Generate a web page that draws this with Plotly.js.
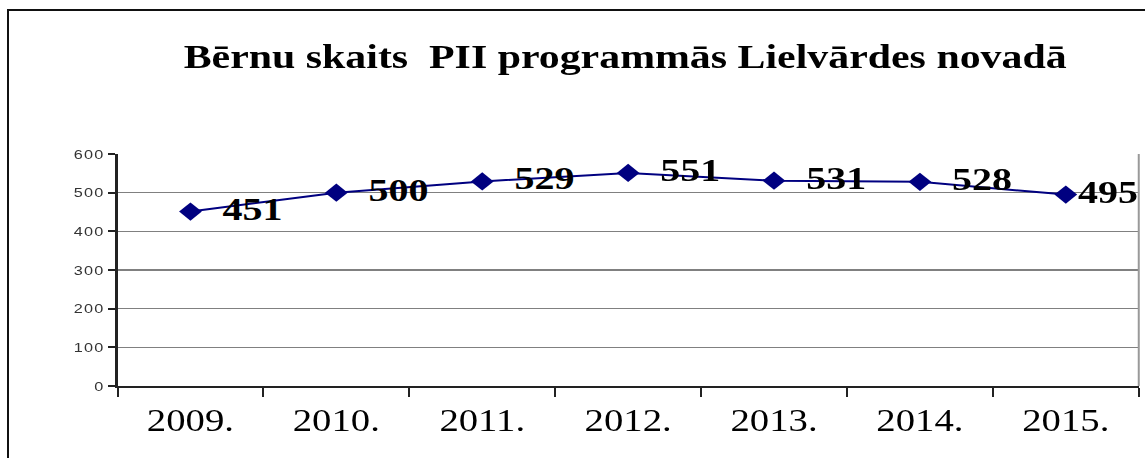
<!DOCTYPE html>
<html><head><meta charset="utf-8">
<script src="https://cdn.plot.ly/plotly-3.0.1.min.js"></script>
<style>
html,body{margin:0;padding:0;background:#fff;overflow:hidden}
#wrap{position:relative;width:1145px;height:458px;overflow:hidden}
#chart{width:916px;height:458px;transform:scaleX(1.25);transform-origin:0 0}
#frame{position:absolute;left:7px;top:9px;width:1200px;height:500px;border-left:2px solid #111;border-top:2px solid #111;pointer-events:none}
.ytick text{letter-spacing:1px}
</style></head>
<body><div id="wrap"><div id="chart"></div><div id="frame"></div></div>
<script>
var years = ['2009.', '2010.', '2011.', '2012.', '2013.', '2014.', '2015.'];
var children = [451, 500, 529, 551, 531, 528, 495];
var yTicks = [0, 100, 200, 300, 400, 500, 600];
var titleText = 'Bērnu skaits  PII programmās Lielvārdes novadā';

var serif = 'Liberation Serif, Times New Roman, serif';
var labelTemplates = children.map(function (v, i) { return i === children.length - 1 ? '%{text}' : '  %{text}'; });
var trace = {
  x: years, y: children, type: 'scatter', mode: 'lines+markers+text',
  line: {color: '#000080', width: 2},
  marker: {symbol: 'diamond', size: 14, color: '#000080'},
  text: children.map(String),
  texttemplate: labelTemplates,
  textposition: 'middle right',
  textfont: {family: serif, size: 32, color: '#000', weight: 'bold'},
  cliponaxis: false,
  hoverinfo: 'skip'
};
var layout = {
  width: 916, height: 458,
  margin: {l: 94.4, r: 4.8, t: 154, b: 72},
  paper_bgcolor: 'rgba(0,0,0,0)', plot_bgcolor: '#fff',
  showlegend: false,
  title: {text: '<b>' + titleText + '</b>', x: 0.546, xanchor: 'center', y: 0.878, yanchor: 'middle',
          font: {family: serif, size: 33.5, color: '#000'}},
  xaxis: {type: 'category', showgrid: false, showline: true, linecolor: '#222', linewidth: 2,
          ticks: 'outside', tickson: 'boundaries', ticklen: 9, tickcolor: '#222', tickwidth: 1.6,
          ticklabelstandoff: 6,
          tickfont: {family: serif, size: 31, color: '#000'},
          range: [-0.5, 6.5], fixedrange: true},
  yaxis: {range: [0, 600], tickvals: yTicks, showgrid: true, gridcolor: '#808080', gridwidth: 1.5,
          showline: true, linecolor: '#222', linewidth: 1.8, ticks: 'outside', ticklen: 6, tickcolor: '#222', tickwidth: 2,
          tickfont: {family: 'Liberation Sans, Arial, sans-serif', size: 13, color: '#333'},
          zeroline: false, fixedrange: true},
  shapes: [{type: 'line', xref: 'paper', yref: 'paper', x0: 1, x1: 1, y0: 0, y1: 1, line: {color: '#999', width: 1.6}}]
};
Plotly.newPlot('chart', [trace], layout, {displayModeBar: false, staticPlot: true});
</script></body></html>
